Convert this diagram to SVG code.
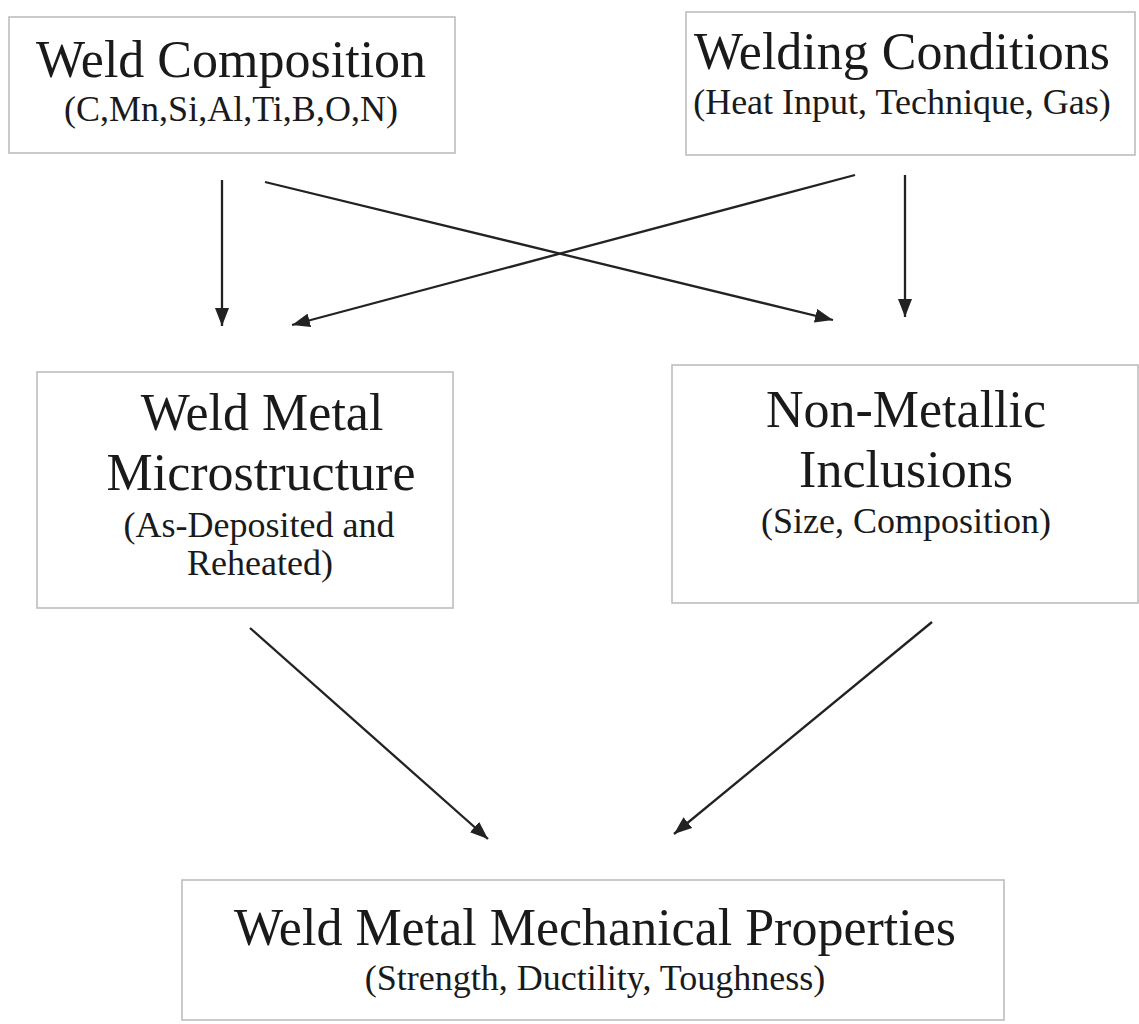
<svg xmlns="http://www.w3.org/2000/svg" width="1139" height="1024" viewBox="0 0 1139 1024">
  <defs>
    <marker id="arr" viewBox="0 0 18 14" refX="18" refY="7" markerWidth="18" markerHeight="14" markerUnits="userSpaceOnUse" orient="auto">
      <path d="M0,0 L18,7 L0,14 Z" fill="#222"/>
    </marker>
    <style>
      .box { fill: #fff; stroke: #bdbdbd; stroke-width: 1.6; }
      .t { font-family: "Liberation Serif", "Times New Roman", serif; fill: #1a1a1a; text-anchor: middle; }
      .h { font-size: 52px; }
      .s { font-size: 36px; }
      .c { stroke: #222; stroke-width: 2.3; fill: none; marker-end: url(#arr); }
    </style>
  </defs>
  <rect width="1139" height="1024" fill="#fff"/>

  <g id="weld-composition">
    <rect class="box" x="9" y="17" width="446" height="136"/>
    <text class="t h" x="231" y="77">Weld Composition</text>
    <text class="t s" x="231" y="121">(C,Mn,Si,Al,Ti,B,O,N)</text>
  </g>

  <g id="welding-conditions">
    <rect class="box" x="686" y="12" width="449" height="143"/>
    <text class="t h" x="902" y="69">Welding Conditions</text>
    <text class="t s" x="902" y="114">(Heat Input, Technique, Gas)</text>
  </g>

  <g id="microstructure">
    <rect class="box" x="37" y="372" width="416" height="236"/>
    <text class="t h" x="262" y="430">Weld Metal</text>
    <text class="t h" x="261" y="490">Microstructure</text>
    <text class="t s" x="259" y="537">(As-Deposited and</text>
    <text class="t s" x="260" y="575">Reheated)</text>
  </g>

  <g id="inclusions">
    <rect class="box" x="672" y="365" width="466" height="238"/>
    <text class="t h" x="906" y="427">Non-Metallic</text>
    <text class="t h" x="906" y="487">Inclusions</text>
    <text class="t s" x="906" y="533">(Size, Composition)</text>
  </g>

  <g id="mechanical-properties">
    <rect class="box" x="182" y="880" width="822" height="140"/>
    <text class="t h" x="595" y="945">Weld Metal Mechanical Properties</text>
    <text class="t s" x="595" y="990">(Strength, Ductility, Toughness)</text>
  </g>

  <g id="connectors">
    <line class="c" x1="222" y1="180" x2="222" y2="326"/>
    <line class="c" x1="265" y1="182" x2="833" y2="320"/>
    <line class="c" x1="855" y1="175" x2="292" y2="325"/>
    <line class="c" x1="905" y1="175" x2="905" y2="317"/>
    <line class="c" x1="250" y1="628" x2="488" y2="839"/>
    <line class="c" x1="932" y1="622" x2="674" y2="834"/>
  </g>
</svg>
